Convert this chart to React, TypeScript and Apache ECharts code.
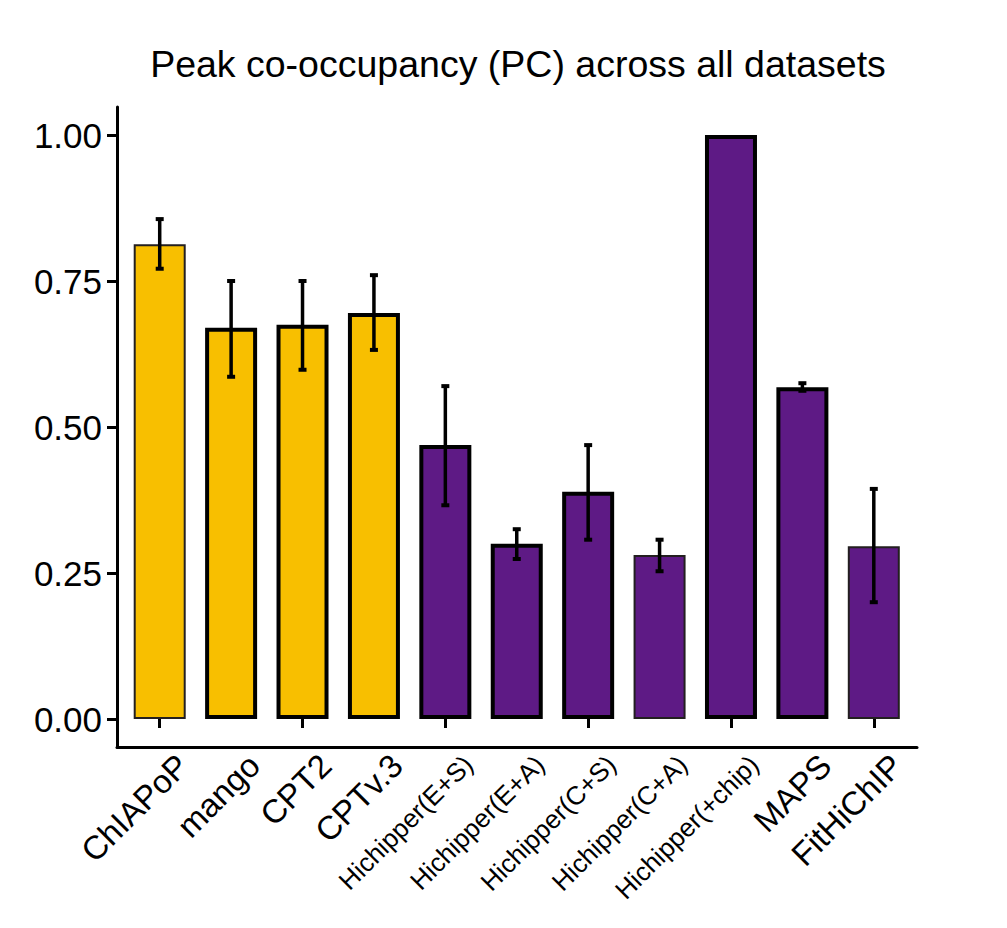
import * as echarts from "echarts";
import { useEffect, useRef } from "react";

const methods = [
	"ChIAPoP",
	"mango",
	"CPT2",
	"CPTv.3",
	"Hichipper(E+S)",
	"Hichipper(E+A)",
	"Hichipper(C+S)",
	"Hichipper(C+A)",
	"Hichipper(+chip)",
	"MAPS",
	"FitHiChIP",
];
// mean PC and error bar limits
const pc = [0.813, 0.67, 0.675, 0.695, 0.469, 0.3, 0.389, 0.281, 1.0, 0.568, 0.296];
const errLow = [0.771, 0.586, 0.598, 0.632, 0.366, 0.274, 0.307, 0.253, null, 0.562, 0.2];
const errHigh = [0.856, 0.75, 0.75, 0.76, 0.57, 0.325, 0.469, 0.307, null, 0.575, 0.394];
const groups = ["loop", "loop", "loop", "loop", "hic", "hic", "hic", "hic", "hic", "hic", "hic"];
const yTicks = [0, 0.25, 0.5, 0.75, 1];

const FONT = "'Liberation Sans', Arial, sans-serif";
const YELLOW = "#F8BF00";
const PURPLE = "#5E1A85";
// bars drawn with a thinner, dark brown outline in the original
const thinBorder = [0, 7, 10];

const hiddenValueAxis = (gridIndex: number, showLine: boolean) => ({
	type: "value",
	gridIndex,
	min: 0,
	max: 1,
	axisLine: { show: showLine, lineStyle: { color: "#000", width: 3 } },
	axisTick: { show: false },
	axisLabel: { show: false },
	splitLine: { show: false },
});

export default function App() {
	const chartRef = useRef<HTMLDivElement>(null);

	useEffect(() => {
		if (!chartRef.current) return;
		document.body.style.margin = "0";
		const chart = echarts.init(chartRef.current, null, { renderer: "svg" });

		const errData = methods
			.map((_, i) => [i, errLow[i], errHigh[i]])
			.filter((d) => d[1] != null);

		chart.setOption({
			animation: false,
			textStyle: { fontFamily: FONT },
			graphic: [
				{
					type: "text",
					x: 518,
					y: 45,
					style: {
						text: "Peak co-occupancy (PC) across all datasets",
						font: `37.5px ${FONT}`,
						fill: "#000",
						textAlign: "center",
						textVerticalAlign: "top",
					},
				},
			],
			grid: [
				// bars: y 0..1 spans 135..719
				{ left: 124, width: 785.5, top: 135, height: 584 },
				// panel border (axis lines)
				{ left: 117, width: 800, top: 107, height: 640 },
				// rotated category labels, nudged right
				{ left: 147, width: 785.5, top: 135, height: 584 },
			],
			xAxis: [
				{
					type: "category",
					gridIndex: 0,
					data: methods,
					offset: 28,
					axisLine: { show: false },
					axisTick: {
						show: true,
						alignWithLabel: true,
						length: 9,
						lineStyle: { color: "#000", width: 3 },
					},
					axisLabel: { show: false },
					splitLine: { show: false },
				},
				hiddenValueAxis(1, true),
				{
					type: "category",
					gridIndex: 2,
					data: methods.map((m) => ({
						value: m,
						textStyle: { fontSize: m.startsWith("Hichipper") ? 26 : 33 },
					})),
					offset: 28,
					axisLine: { show: false },
					axisTick: { show: false },
					axisLabel: {
						interval: 0,
						rotate: 45,
						margin: 13,
						verticalAlign: "top",
						color: "#000",
						fontFamily: FONT,
					},
					splitLine: { show: false },
				},
			],
			yAxis: [
				{
					type: "value",
					gridIndex: 0,
					min: 0,
					max: 1,
					interval: 0.25,
					offset: 7,
					axisLine: { show: false },
					axisTick: {
						show: true,
						length: 10,
						lineStyle: { color: "#000", width: 3 },
					},
					axisLabel: {
						margin: 15,
						fontSize: 35,
						color: "#000",
						fontFamily: FONT,
						formatter: (v: number) =>
							yTicks.includes(v) ? v.toFixed(2) : "",
					},
					splitLine: { show: false },
				},
				hiddenValueAxis(1, true),
				hiddenValueAxis(2, false),
			],
			series: [
				{
					type: "bar",
					xAxisIndex: 0,
					yAxisIndex: 0,
					barWidth: 52,
					data: pc.map((v, i) => ({
						value: v,
						itemStyle: {
							color: groups[i] === "loop" ? YELLOW : PURPLE,
							borderColor: thinBorder.includes(i) ? "#231F20" : "#000",
							borderWidth: thinBorder.includes(i) ? 2 : 4,
						},
					})),
				},
				{
					type: "custom",
					xAxisIndex: 0,
					yAxisIndex: 0,
					z: 10,
					data: errData,
					encode: { x: 0, y: [1, 2] },
					renderItem: (_params: any, api: any) => {
						const i = api.value(0);
						const lo = api.coord([i, api.value(1)]);
						const hi = api.coord([i, api.value(2)]);
						const cap = 4;
						const line = { stroke: "#000", lineWidth: 3.5 };
						const capStyle = { stroke: "#000", lineWidth: 4 };
						return {
							type: "group",
							children: [
								{
									type: "line",
									shape: { x1: lo[0], y1: lo[1], x2: hi[0], y2: hi[1] },
									style: line,
								},
								{
									type: "line",
									shape: { x1: lo[0] - cap, y1: lo[1], x2: lo[0] + cap, y2: lo[1] },
									style: capStyle,
								},
								{
									type: "line",
									shape: { x1: hi[0] - cap, y1: hi[1], x2: hi[0] + cap, y2: hi[1] },
									style: capStyle,
								},
							],
						};
					},
				},
			],
		});

		return () => {
			chart.dispose();
		};
	}, []);

	return <div ref={chartRef} style={{ width: 1007, height: 928 }} />;
}
